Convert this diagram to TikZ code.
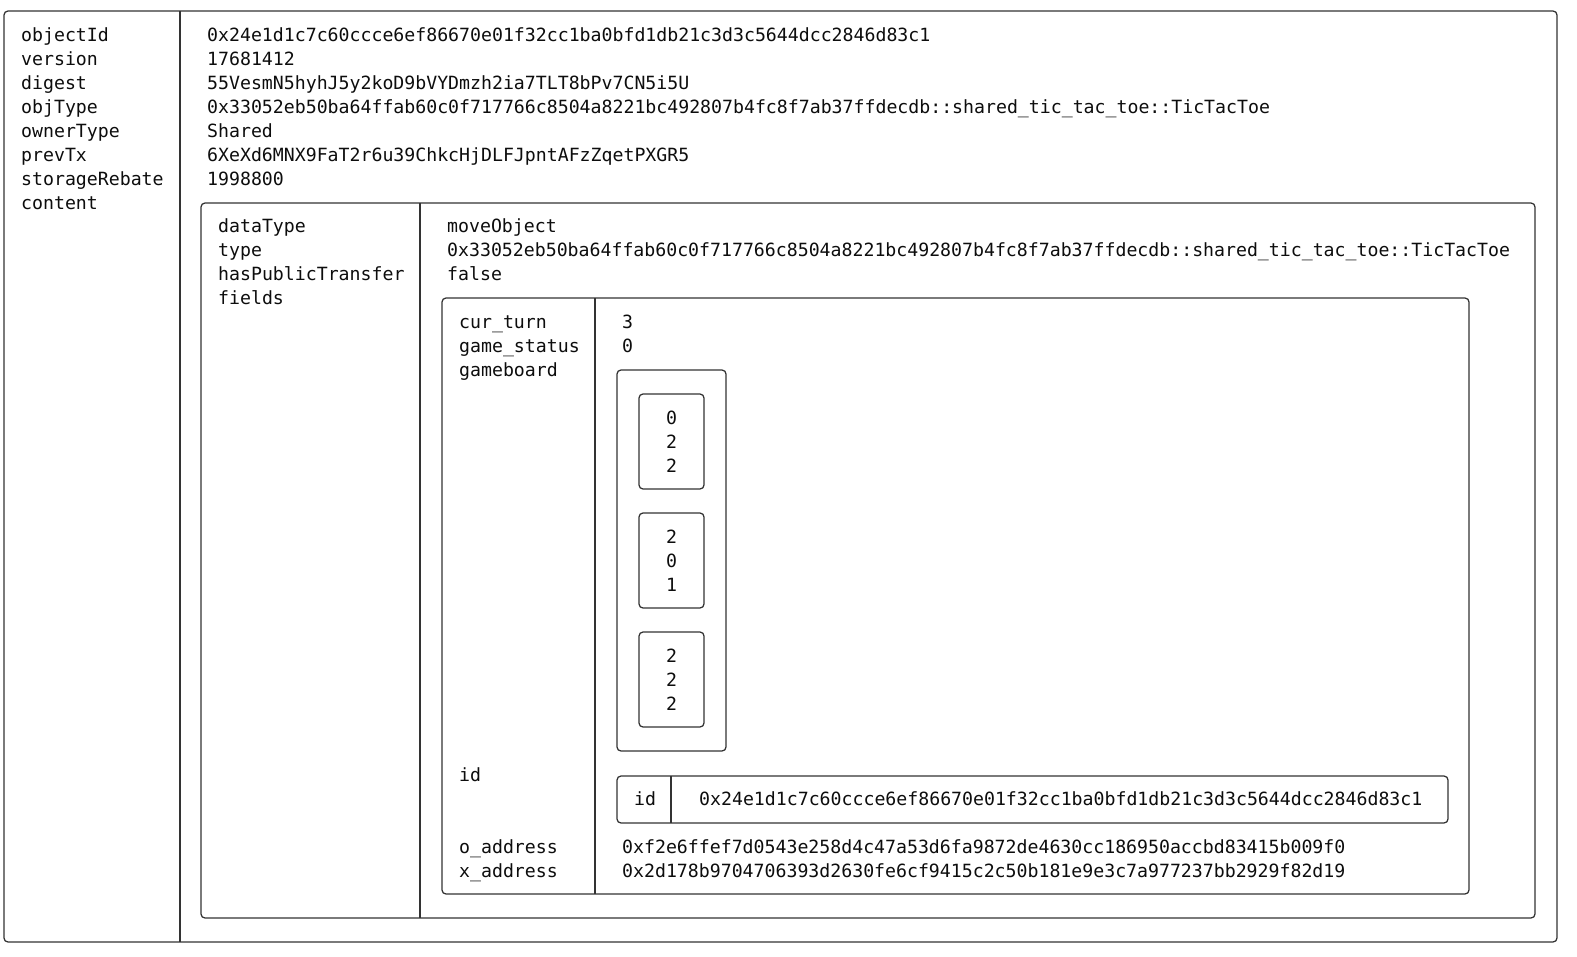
\documentclass[tikz,border=0pt]{standalone}
\usepackage{fontspec}
\setmainfont{DejaVu Sans Mono}
\usetikzlibrary{matrix}
\usepackage{xcolor}
\tikzset{
boxframe/.style={draw=black!80, line width=1.25bp, rounded corners=4bp},
divider/.style={draw=black!80, line width=1.25bp},
keycol/.style={
  matrix of nodes,
  inner sep=0pt,
  row sep=0pt,
  nodes={anchor=base west, inner sep=0pt},
  text height=17bp,
  text depth=7bp
  },
cellcol/.style={
  matrix of nodes,
  boxframe,
  inner xsep=26.5bp,
  inner ysep=11.5bp,
  row sep=0pt,
  nodes={inner sep=0pt, text width=12bp, align=center},
  text height=19bp,
  text depth=5bp
  },
}

\begin{document}
\begin{tikzpicture}[x=1bp, y=-1bp, font=\fontsize{18.2bp}{24bp}\selectfont, text=black!95]
    \useasboundingbox (0,0) rectangle (1577,956);

    % object
    \draw [boxframe] (4,11) rectangle (1557,942);
    \draw [divider] (180,11) -- (180,942);
    \matrix [keycol, anchor=north west] (objkeys) at (21,24)
    {
        objectId \\ version \\ digest \\ objType \\ ownerType \\ prevTx \\ storageRebate \\ content \\
    };
    \matrix [keycol, anchor=north west] (objvals) at (207,24)
    {
        0x24e1d1c7c60ccce6ef86670e01f32cc1ba0bfd1db21c3d3c5644dcc2846d83c1 \\
        17681412 \\
        55VesmN5hyhJ5y2koD9bVYDmzh2ia7TLT8bPv7CN5i5U \\
        0x33052eb50ba64ffab60c0f717766c8504a8221bc492807b4fc8f7ab37ffdecdb::shared\_tic\_tac\_toe::TicTacToe \\
        Shared \\
        6XeXd6MNX9FaT2r6u39ChkcHjDLFJpntAFzZqetPXGR5 \\
        1998800 \\
    };

    % content
    \draw [boxframe] (201,203) rectangle (1535,918);
    \draw [divider] (420,203) -- (420,918);
    \matrix [keycol, anchor=north west] (contkeys) at (218,215)
    {
        dataType \\ type \\ hasPublicTransfer \\ fields \\
    };
    \matrix [keycol, anchor=north west] (contvals) at (447,215)
    {
        moveObject \\
        0x33052eb50ba64ffab60c0f717766c8504a8221bc492807b4fc8f7ab37ffdecdb::shared\_tic\_tac\_toe::TicTacToe \\
        false \\
    };

    % fields
    \draw [boxframe] (442,298) rectangle (1469,894);
    \draw [divider] (595,298) -- (595,894);
    \matrix [keycol, anchor=north west] (fieldkeys) at (459,311)
    {
        cur\_turn \\ game\_status \\ gameboard \\
    };
    \node [anchor=base west, inner sep=0pt] (idkey) at (459,781) {id};
    \matrix [keycol, anchor=north west] (addrkeys) at (459,836)
    {
        o\_address \\ x\_address \\
    };
    \matrix [keycol, anchor=north west] (fieldvals) at (622,311)
    {
        3 \\ 0 \\
    };
    \matrix [keycol, anchor=north west] (addrvals) at (622,836)
    {
        0xf2e6ffef7d0543e258d4c47a53d6fa9872de4630cc186950accbd83415b009f0 \\
        0x2d178b9704706393d2630fe6cf9415c2c50b181e9e3c7a977237bb2929f82d19 \\
    };

    % gameboard
    \draw [boxframe] (617,370) rectangle (726,751);
    \foreach \a/\b/\c [count=\r] in {0/2/2, 2/0/1, 2/2/2}
    {
        \matrix [cellcol] (row\r) at (671.5,{441.5+119*(\r-1)})
        {
            \a \\ \b \\ \c \\
        };
    }

    % id
    \draw [boxframe] (617,776) rectangle (1448,823);
    \draw [divider] (671,776) -- (671,823);
    \node [anchor=base, inner sep=0pt] (uidkey) at (645,805) {id};
    \node [anchor=base west, inner sep=0pt] (uidval) at (699,805)
        {0x24e1d1c7c60ccce6ef86670e01f32cc1ba0bfd1db21c3d3c5644dcc2846d83c1};
\end{tikzpicture}
\end{document}
